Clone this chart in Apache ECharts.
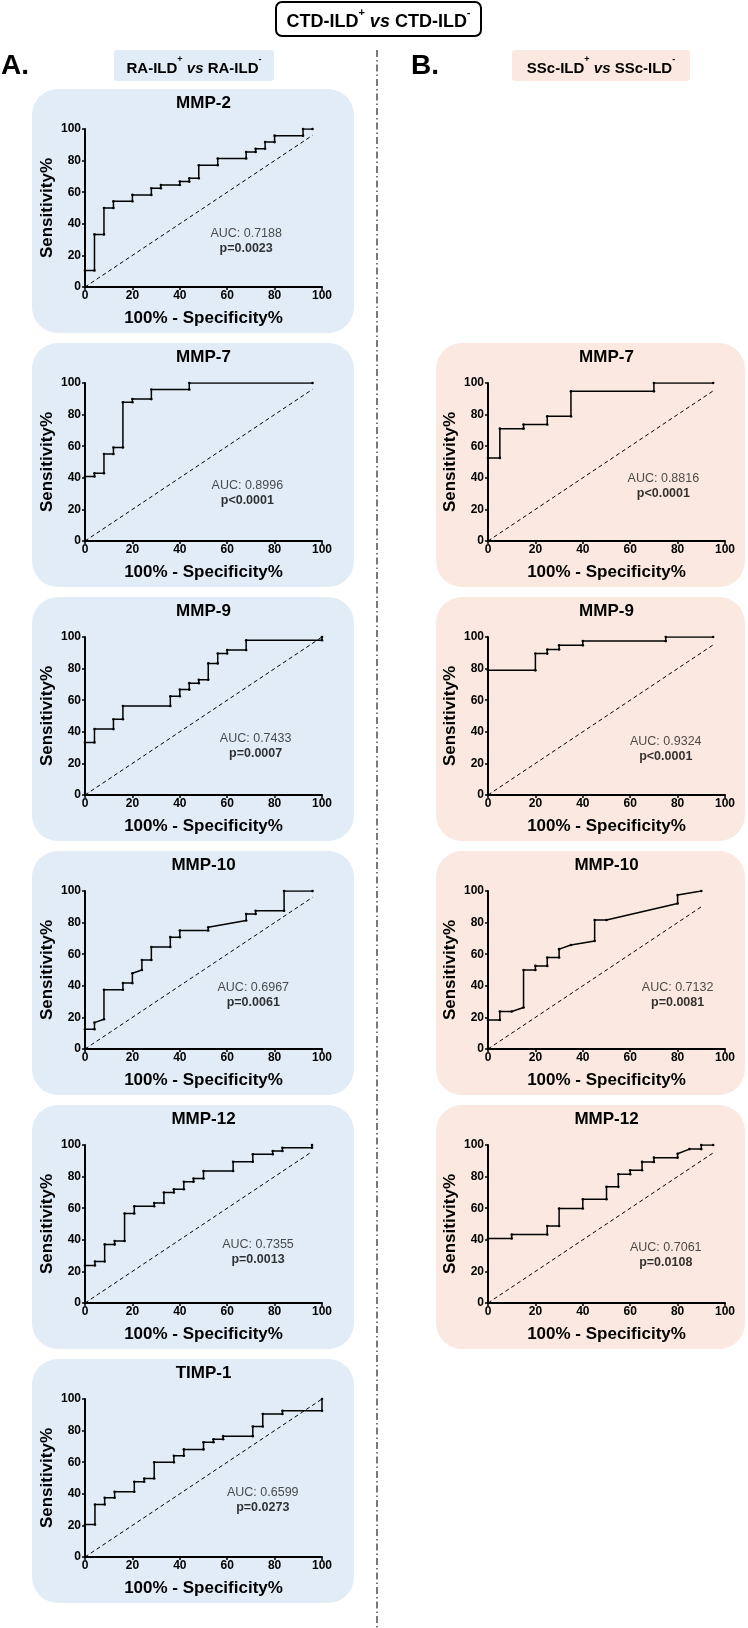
<!DOCTYPE html>
<html>
<head>
<meta charset="utf-8">
<script src="https://cdn.jsdelivr.net/npm/echarts@6/dist/echarts.min.js"></script>
<style>
html,body{margin:0;padding:0;background:#fff;}
#c{width:748px;height:1628px;}
</style>
</head>
<body>
<div id="c"></div>
<script>
// ---------------- DATA ----------------
const xTicks = [0, 20, 40, 60, 80, 100];
const yTicks = [0, 20, 40, 60, 80, 100];

// RA-ILD+ vs RA-ILD- (column A)
const raMMP2_x = [0,0,4,4,8,8,12,12,20,20,28,28,32,32,40,40,44,44,48,48,56,56,68,68,72,72,76,76,80,80,92,92,96];
const raMMP2_y = [0,10.4,10.4,33.3,33.3,50,50,54.2,54.2,58.3,58.3,62.5,62.5,64.6,64.6,66.7,66.7,68.8,68.8,77.1,77.1,81.3,81.3,85.4,85.4,87.5,87.5,91.7,91.7,95.8,95.8,100,100];

const raMMP7_x = [0,0,4,4,8,8,12,12,16,16,20,20,28,28,44,44,96];
const raMMP7_y = [0,40.8,40.8,42.9,42.9,55.1,55.1,59.2,59.2,87.8,87.8,89.8,89.8,95.9,95.9,100,100];

const raMMP9_x = [0,0,4,4,12,12,16,16,36,36,40,40,44,44,48,48,52,52,56,56,60,60,68,68,100,100];
const raMMP9_y = [0,33.3,33.3,41.7,41.7,47.9,47.9,56.3,56.3,62.5,62.5,66.7,66.7,70.8,70.8,72.9,72.9,83.3,83.3,89.6,89.6,91.7,91.7,97.9,97.9,100];

const raMMP10_x = [0,0,4,4,8,8,16,16,20,20,24,24,28,28,36,36,40,40,52,52,68,68,72,72,84,84,96];
const raMMP10_y = [0,12.5,12.5,16.7,18.8,37.5,37.5,41.7,41.7,47.9,50,56.3,56.3,64.6,64.6,70.8,70.8,75,75,77.1,81.3,85.4,85.4,87.5,87.5,100,100];

const raMMP12_x = [0,0,4.2,4.2,8.3,8.3,12.5,12.5,16.7,16.7,20.8,20.8,29.2,29.2,33.3,33.3,37.5,37.5,41.7,41.7,45.8,45.8,50,50,62.5,62.5,70.8,70.8,79.2,79.2,83.3,83.3,95.8,95.8];
const raMMP12_y = [0,23.7,23.7,26.3,26.3,37.1,37.1,39.2,39.2,56.6,56.6,61.2,61.2,63.3,63.3,69.9,69.9,72,72,76.7,76.7,78.8,78.8,83.5,83.5,89.4,89.4,94.1,94.1,96.2,96.2,98.3,98.3,100];

const raTIMP1_x = [0,0,4.2,4.2,8.3,8.3,12.5,12.5,20.8,20.8,25,25,29.2,29.2,37.5,37.5,41.7,41.7,50,50,54.2,54.2,58.3,58.3,70.8,70.8,75,75,83.3,83.3,100,100];
const raTIMP1_y = [0,20.5,20.5,33.2,33.2,37.5,37.5,41.3,41.3,47.6,47.6,49.7,49.7,59.9,59.9,64.1,64.1,68.1,68.1,72.6,72.6,74.5,74.5,76.5,76.5,82.6,82.6,90.5,90.5,92.6,92.6,100];

// SSc-ILD+ vs SSc-ILD- (column B)
const sscMMP7_x = [0,0,5,5,15,15,25,25,35,35,70,70,95];
const sscMMP7_y = [0,52.6,52.6,71.1,71.1,73.7,73.7,78.9,78.9,94.7,94.7,100,100];

const sscMMP9_x = [0,0,20,20,25,25,30,30,40,40,75,75,95];
const sscMMP9_y = [0,78.9,78.9,89.5,89.5,92.1,92.1,94.7,94.7,97.4,97.4,100,100];

const sscMMP10_x = [0,0,5,5,10,15,15,20,20,25,25,30,30,35,45,45,50,80,80,90];
const sscMMP10_y = [0,18.4,18.4,23.7,23.7,26.3,50,50,52.6,52.6,57.9,57.9,63.2,65.8,68.4,81.6,81.6,92.1,97.4,100];

const sscMMP12_x = [0,0,10,10,25,25,30,30,40,40,50,50,55,55,60,60,65,65,70,70,80,80,85,90,90,95];
const sscMMP12_y = [0,40.8,40.8,43.4,43.4,48.7,48.7,59.8,59.8,65.7,65.7,73.5,73.5,81.5,81.5,84,84,89.3,89.3,92,92,94.5,97.4,97.4,100,100];

const panelTitles = ['MMP-2','MMP-7','MMP-9','MMP-10','MMP-12','TIMP-1','MMP-7','MMP-9','MMP-10','MMP-12'];
const aucValues   = ['0.7188','0.8996','0.7433','0.6967','0.7355','0.6599','0.8816','0.9324','0.7132','0.7061'];
const pValues     = ['p=0.0023','p<0.0001','p=0.0007','p=0.0061','p=0.0013','p=0.0273','p<0.0001','p<0.0001','p=0.0081','p=0.0108'];

// ---------------- LAYOUT ----------------
const FONT = 'Liberation Sans, Arial, Helvetica, sans-serif';
const BLUE = '#e2ecf6';
const PEACH = '#fbe9e1';
const ROW0 = 129, ROWSTEP = 254, PH = 158, PW = 237;
const colA = {left: 85, bg: 32, bgw: 322, color: BLUE};
const colB = {left: 488, bg: 436, bgw: 309, color: PEACH};

// col, row, x data, y data, AUC label anchor (data coords)
const panels = [
  {col: colA, row: 0, x: raMMP2_x,  y: raMMP2_y,  lab: [68, 29]},
  {col: colA, row: 1, x: raMMP7_x,  y: raMMP7_y,  lab: [68.5, 30.5]},
  {col: colA, row: 2, x: raMMP9_x,  y: raMMP9_y,  lab: [72, 31]},
  {col: colA, row: 3, x: raMMP10_x, y: raMMP10_y, lab: [71, 34]},
  {col: colA, row: 4, x: raMMP12_x, y: raMMP12_y, lab: [73, 32]},
  {col: colA, row: 5, x: raTIMP1_x, y: raTIMP1_y, lab: [75, 36]},
  {col: colB, row: 1, x: sscMMP7_x,  y: sscMMP7_y,  lab: [74, 34.5]},
  {col: colB, row: 2, x: sscMMP9_x,  y: sscMMP9_y,  lab: [75, 29]},
  {col: colB, row: 3, x: sscMMP10_x, y: sscMMP10_y, lab: [80, 34]},
  {col: colB, row: 4, x: sscMMP12_x, y: sscMMP12_y, lab: [75, 30.5]}
];

const grids = [], xAxes = [], yAxes = [], series = [], graphics = [];

const axisCommon = {
  type: 'value', min: 0, max: 100, interval: 20,
  axisLine: {show: true, onZero: false, lineStyle: {color: '#000', width: 2}},
  axisTick: {show: true, length: 3, lineStyle: {color: '#000', width: 1.5}},
  splitLine: {show: false},
  nameLocation: 'middle',
  nameTextStyle: {fontSize: 17, fontWeight: 'bold', color: '#000', fontFamily: FONT}
};

panels.forEach((p, i) => {
  const top = ROW0 + ROWSTEP * p.row;
  grids.push({left: p.col.left, top: top, width: PW, height: PH, containLabel: false});
  xAxes.push(Object.assign({}, axisCommon, {
    gridIndex: i,
    name: '100% - Specificity%', nameGap: 23,
    axisLabel: {fontSize: 12, fontWeight: 'bold', color: '#000', margin: 3, fontFamily: FONT,
      formatter: v => xTicks.includes(v) ? String(v) : ''}
  }));
  yAxes.push(Object.assign({}, axisCommon, {
    gridIndex: i,
    name: 'Sensitivity%', nameGap: 29,
    axisLabel: {fontSize: 12, fontWeight: 'bold', color: '#000', margin: 4, fontFamily: FONT,
      formatter: v => yTicks.includes(v) ? String(v) : ''}
  }));
  const endX = p.x[p.x.length - 1];
  series.push({
    type: 'line', xAxisIndex: i, yAxisIndex: i,
    data: [[0, 0], [endX, endX]],
    symbol: 'none', silent: true, z: 3,
    lineStyle: {color: '#000', width: 1, type: [4, 3]}
  });
  series.push({
    type: 'line', xAxisIndex: i, yAxisIndex: i,
    data: p.x.map((v, k) => [v, p.y[k]]),
    symbol: 'circle', symbolSize: 2.6, showAllSymbol: true, z: 4,
    itemStyle: {color: '#000'},
    lineStyle: {color: '#000', width: 1.5}
  });
  series.push({
    type: 'scatter', xAxisIndex: i, yAxisIndex: i,
    data: [p.lab], symbolSize: 1, itemStyle: {color: 'rgba(0,0,0,0)'}, z: 5,
    label: {
      show: true, position: 'inside',
      formatter: '{a|AUC: ' + aucValues[i] + '}\n{b|' + pValues[i] + '}',
      rich: {
        a: {fontSize: 12.5, color: '#222', fontFamily: FONT, lineHeight: 15},
        b: {fontSize: 12.5, color: '#000', fontWeight: 'bold', fontFamily: FONT, lineHeight: 15}
      }
    }
  });
  // panel background
  graphics.push({
    type: 'rect', z: -10,
    shape: {x: p.col.bg, y: top - 40, width: p.col.bgw, height: 244, r: 26},
    style: {fill: p.col.color}
  });
  graphics.push({
    type: 'text', z: 10,
    x: p.col.left + PW / 2, y: top - 26,
    style: {text: panelTitles[i], font: 'bold 17px ' + FONT, fill: '#000', textAlign: 'center', textVerticalAlign: 'middle'}
  });
});

// headers
const supRich = (size) => ({
  b: {fontSize: size, fontWeight: 'bold', fontFamily: FONT, color: '#000', lineHeight: size + 6, verticalAlign: 'bottom'},
  i: {fontSize: size, fontWeight: 'bold', fontStyle: 'italic', fontFamily: FONT, color: '#000', lineHeight: size + 6, verticalAlign: 'bottom'},
  s: {fontSize: Math.round(size * 0.6), fontWeight: 'bold', fontFamily: FONT, color: '#000', verticalAlign: 'top', lineHeight: size + 2}
});

graphics.push(
  {type: 'rect', z: 1, shape: {x: 276, y: 2, width: 205, height: 34, r: 6},
   style: {fill: '#fff', stroke: '#000', lineWidth: 2}},
  {type: 'text', z: 2, x: 378.5, y: 19,
   style: {text: '{b|CTD-ILD}{s|+}{i| vs }{b|CTD-ILD}{s|-}', rich: supRich(18), textAlign: 'center', textVerticalAlign: 'middle'}},
  {type: 'rect', z: 1, shape: {x: 114, y: 50, width: 160, height: 31, r: 3}, style: {fill: BLUE}},
  {type: 'text', z: 2, x: 194, y: 65.5,
   style: {text: '{b|RA-ILD}{s|+}{i| vs }{b|RA-ILD}{s|-}', rich: supRich(15), textAlign: 'center', textVerticalAlign: 'middle'}},
  {type: 'rect', z: 1, shape: {x: 512, y: 50, width: 178, height: 31, r: 3}, style: {fill: PEACH}},
  {type: 'text', z: 2, x: 601, y: 65.5,
   style: {text: '{b|SSc-ILD}{s|+}{i| vs }{b|SSc-ILD}{s|-}', rich: supRich(15), textAlign: 'center', textVerticalAlign: 'middle'}},
  {type: 'text', z: 2, x: 1, y: 66,
   style: {text: 'A.', font: 'bold 28px ' + FONT, fill: '#000', textAlign: 'left', textVerticalAlign: 'middle'}},
  {type: 'text', z: 2, x: 411, y: 66,
   style: {text: 'B.', font: 'bold 28px ' + FONT, fill: '#000', textAlign: 'left', textVerticalAlign: 'middle'}},
  {type: 'line', z: 1, shape: {x1: 377, y1: 50, x2: 377, y2: 1628},
   style: {stroke: '#222', lineWidth: 1.2, lineDash: [7, 3, 1.5, 3]}}
);

const chart = echarts.init(document.getElementById('c'), null, {renderer: 'canvas'});
chart.setOption({
  animation: false,
  backgroundColor: '#fff',
  grid: grids,
  xAxis: xAxes,
  yAxis: yAxes,
  series: series,
  graphic: {elements: graphics}
});
</script>
</body>
</html>
